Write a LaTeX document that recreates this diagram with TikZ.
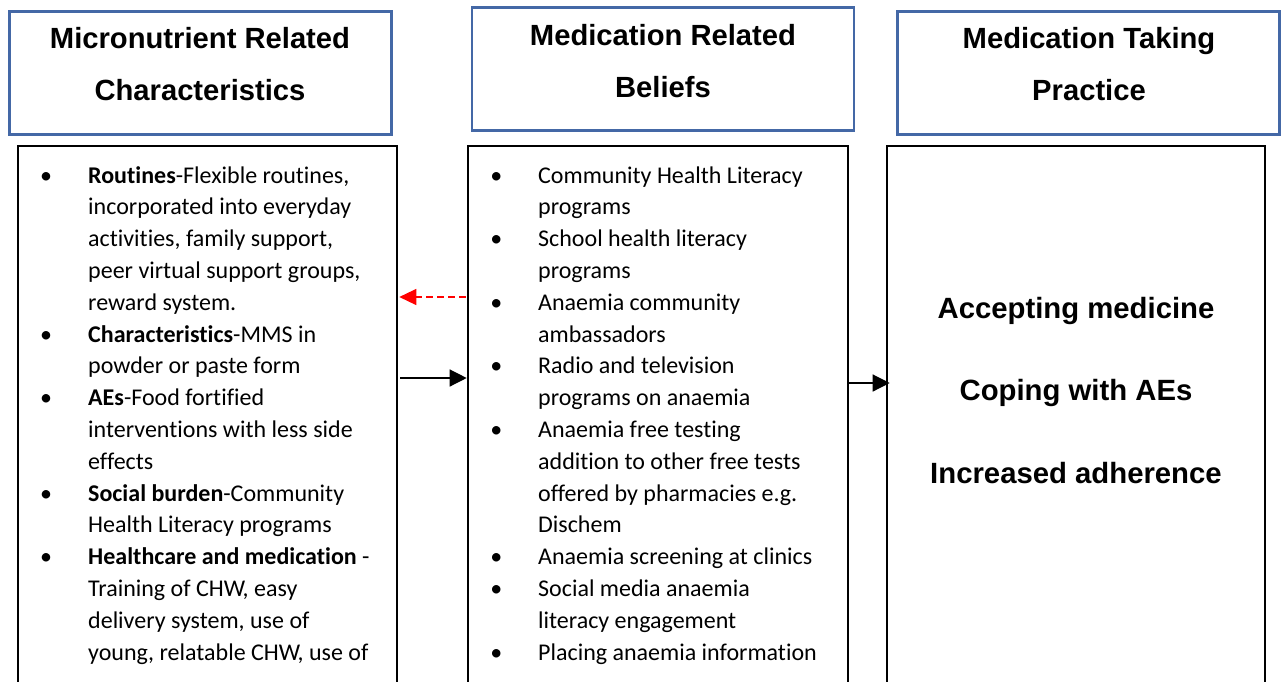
\documentclass[tikz,border=0pt]{standalone}
\usepackage{fontspec}
\setmainfont{Carlito}[Ligatures=NoCommon]
\newfontfamily\headfont{Liberation Sans}
\usetikzlibrary{arrows.meta}

\definecolor{hdrblue}{RGB}{68,104,166}

% bullet placed in the left margin of a list line
\newcommand\bul{\leavevmode\llap{\textbullet\hspace{36pt}}}

\tikzset{
  hdrbox/.style={draw=hdrblue, line width=2.4pt, minimum width=382pt,
    minimum height=123pt, inner sep=0pt},
  bodybox/.style={draw=black, line width=2.6pt, minimum height=570pt,
    inner sep=0pt},
  hdrtext/.style={anchor=base, inner sep=0pt,
    font=\headfont\bfseries\fontsize{29.2}{52}\selectfont},
  listtext/.style={anchor=base west, inner sep=0pt,
    font=\fontsize{24}{31.8}\selectfont},
  restext/.style={anchor=base, inner sep=0pt,
    font=\headfont\bfseries\fontsize{29.3}{82.5}\selectfont},
  arr/.style={line width=1.3pt, -{Triangle[length=17pt,width=17pt]}},
  back/.style={line width=1.3pt, red, dash pattern=on 7pt off 4pt,
    -{Triangle[length=17pt,width=16pt]}}
}

\begin{document}
\begin{tikzpicture}[x=1pt,y=-1pt]
\useasboundingbox (0,0) rectangle (1282,681);
\clip (0,0) rectangle (1282,681);

% header boxes
\node[hdrbox] (h1) at (200.5,73) {};
\node[hdrbox] (h2) at (663,69) {};
\node[hdrbox] (h3) at (1088.5,73) {};

\node[hdrtext] (t1) at (200,48)
  {\parbox[t]{380pt}{\centering Micronutrient Related\\Characteristics}};
\node[hdrtext] (t2) at (663,45)
  {\parbox[t]{380pt}{\centering Medication Related\\Beliefs}};
\node[hdrtext] (t3) at (1089,48)
  {\parbox[t]{380pt}{\centering Medication Taking\\Practice}};

% body boxes, running past the lower edge
\node[bodybox, minimum width=379pt] (b1) at (207.5,431) {};
\node[bodybox, minimum width=380pt] (b2) at (658,431) {};
\node[bodybox, minimum width=378pt] (b3) at (1076,431) {};

% left list
\node[listtext] (l1) at (88,183) {\parbox[t]{420pt}{\raggedright
\bul\textbf{Routines}-Flexible routines,\\
incorporated into everyday\\
activities, family support,\\
peer virtual support groups,\\
reward system.\\
\bul\textbf{Characteristics}-MMS in\\
powder or paste form\\
\bul\textbf{AEs}-Food fortified\\
interventions with less side\\
effects\\
\bul\textbf{Social burden}-Community\\
Health Literacy programs\\
\bul\textbf{Healthcare and medication} -\\
Training of CHW, easy\\
delivery system, use of\\
young, relatable CHW, use of}};

% middle list
\node[listtext] (l2) at (538,183) {\parbox[t]{420pt}{\raggedright
\bul Community Health Literacy\\
programs\\
\bul School health literacy\\
programs\\
\bul Anaemia community\\
ambassadors\\
\bul Radio and television\\
programs on anaemia\\
\bul Anaemia free testing\\
addition to other free tests\\
offered by pharmacies e.g.\\
Dischem\\
\bul Anaemia screening at clinics\\
\bul Social media anaemia\\
literacy engagement\\
\bul Placing anaemia information}};

% outcomes
\node[restext] (r3) at (1076,318) {\parbox[t]{378pt}{\centering
Accepting medicine\\Coping with AEs\\Increased adherence}};

% connectors
\coordinate (ya) at (0,378);
\coordinate (yb) at (0,297);
\coordinate (yc) at (0,383);
\draw[arr] ([xshift=2pt]b1.east |- ya) -- (b2.west |- ya);
\draw[back] ([xshift=-1pt]b2.west |- yb) -- ([xshift=1pt]b1.east |- yb);
\draw[arr] (b2.east |- yc) -- ([xshift=4pt]b3.west |- yc);
\end{tikzpicture}
\end{document}
